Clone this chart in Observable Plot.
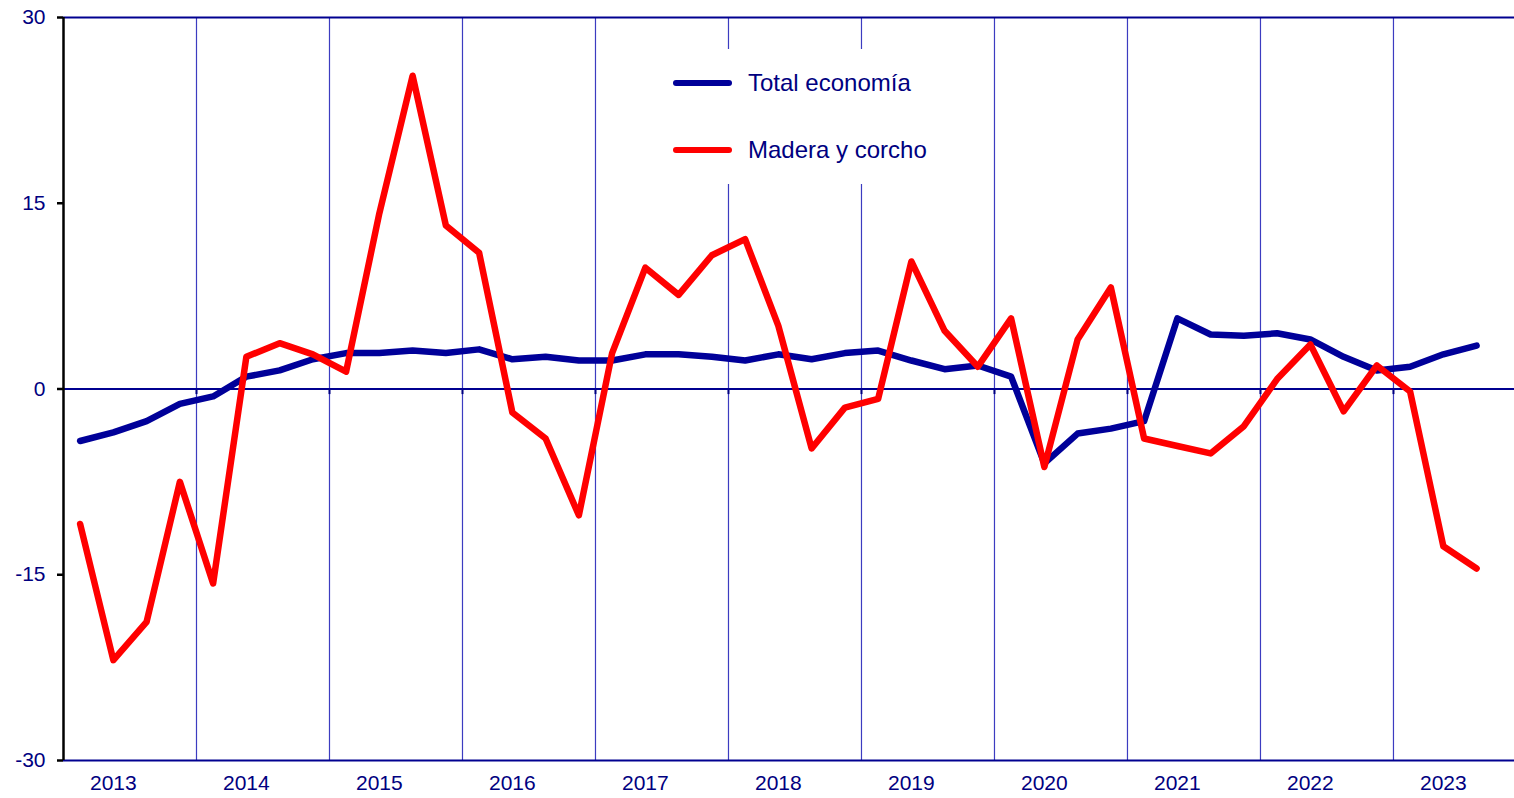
<!DOCTYPE html>
<html>
<head>
<meta charset="utf-8">
<script src="https://cdn.jsdelivr.net/npm/d3@7"></script>
<script src="https://cdn.jsdelivr.net/npm/@observablehq/plot@0.6"></script>
<style>
  html, body { margin: 0; padding: 0; background: #fff; }
  #wrap { position: relative; width: 1514px; height: 798px; font-family: "Liberation Sans", Arial, sans-serif; }
  #legend { position: absolute; left: 602px; top: 49px; width: 388px; height: 135px; background: #fff; }
  .item { position: absolute; left: 71px; display: flex; align-items: center; color: #000080; font-size: 24px; white-space: nowrap; }
  .sw { width: 59px; height: 6px; border-radius: 3px; margin-right: 16px; }
</style>
</head>
<body>
<div id="wrap"><div id="legend"></div></div>
<script>
// Quarterly series 2013Q1 .. 2023Q3
const startYear = 2013;
const years = [2013, 2014, 2015, 2016, 2017, 2018, 2019, 2020, 2021, 2022, 2023];
const yTicks = [-30, -15, 0, 15, 30];
const seriesNames = ["Total economía", "Madera y corcho"];
const seriesColors = ["#000099", "#ff0000"];

const totalEconomia = [
  -4.2, -3.5, -2.6, -1.2,
  -0.6, 1.0, 1.5, 2.4,
  2.9, 2.9, 3.1, 2.9,
  3.2, 2.4, 2.6, 2.3,
  2.3, 2.8, 2.8, 2.6,
  2.3, 2.8, 2.4, 2.9,
  3.1, 2.3, 1.6, 1.9,
  1.0, -6.0, -3.6, -3.2,
  -2.6, 5.7, 4.4, 4.3,
  4.5, 4.0, 2.6, 1.5,
  1.8, 2.8, 3.5
];
const maderaCorcho = [
  -10.9, -21.9, -18.8, -7.5,
  -15.7, 2.6, 3.7, 2.8,
  1.4, 14.2, 25.3, 13.2,
  11.0, -1.9, -4.0, -10.2,
  2.9, 9.8, 7.6, 10.8,
  12.1, 5.1, -4.8, -1.5,
  -0.8, 10.3, 4.7, 1.8,
  5.7, -6.3, 4.0, 8.2,
  -4.0, -4.6, -5.2, -3.0,
  0.8, 3.6, -1.8, 1.9,
  -0.2, -12.7, -14.5
];

const toRows = (vals, name) => vals.map((v, i) => ({
  t: startYear + Math.floor(i / 4) + ((i % 4) + 0.5) / 4,
  v, name
}));
const rowsTotal = toRows(totalEconomia, seriesNames[0]);
const rowsMadera = toRows(maderaCorcho, seriesNames[1]);

const navy = "#000080";
const boundaries = years.slice(1);

const chart = Plot.plot({
  width: 1514,
  height: 798,
  marginLeft: 63,
  marginRight: 0,
  marginTop: 17,
  marginBottom: 38,
  style: { fontFamily: "Liberation Sans, Arial, sans-serif", fontSize: "21px", background: "#fff", overflow: "visible" },
  x: { domain: [2013, 2023.91] },
  y: { domain: [-30, 30] },
  marks: [
    Plot.ruleX(boundaries, { y1: -30, y2: 30, stroke: "#3c3cc0", strokeWidth: 1.2 }),
    Plot.ruleX(boundaries, { y1: 0, y2: -0.45, stroke: navy, strokeWidth: 2 }),
    Plot.ruleY([30, -30, 0], { stroke: "#000090", strokeWidth: 2.2 }),
    Plot.ruleX([2013], { y1: -30, y2: 30, stroke: "#000", strokeWidth: 2.5 }),
    Plot.axisY({ ticks: yTicks, tickSize: 6, tickPadding: 12, stroke: "#000", strokeWidth: 2.5, fill: navy, fontSize: 21, label: null, tickFormat: d => String(d) }),
    Plot.axisX({ ticks: years.map(y => y + 0.375), tickSize: 0, tickPadding: 15, fill: navy, fontSize: 21, label: null, tickFormat: d => String(Math.round(d - 0.375)) }),
    Plot.line(rowsTotal, { x: "t", y: "v", stroke: seriesColors[0], strokeWidth: 6.5, strokeLinejoin: "round", strokeLinecap: "round" }),
    Plot.line(rowsMadera, { x: "t", y: "v", stroke: seriesColors[1], strokeWidth: 6.5, strokeLinejoin: "round", strokeLinecap: "round" })
  ]
});
const wrap = document.getElementById("wrap");
wrap.insertBefore(chart, wrap.firstChild);

const legend = document.getElementById("legend");
seriesNames.forEach((n, i) => {
  const d = document.createElement("div");
  d.className = "item";
  d.style.top = (i === 0 ? 20 : 87) + "px";
  d.style.height = "28px";
  const sw = document.createElement("span");
  sw.className = "sw";
  sw.style.background = seriesColors[i];
  const tx = document.createElement("span");
  tx.textContent = n;
  d.appendChild(sw); d.appendChild(tx);
  legend.appendChild(d);
});
</script>
</body>
</html>
